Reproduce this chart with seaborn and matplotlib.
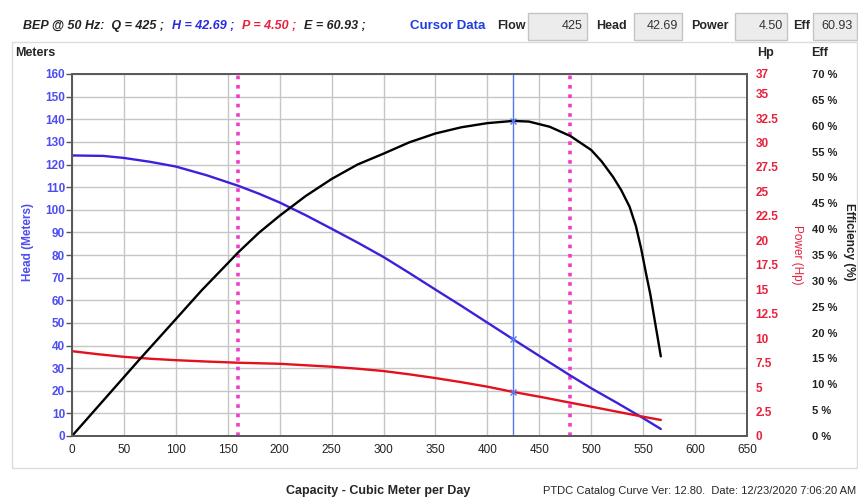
import numpy as np
import pandas as pd
import matplotlib
matplotlib.use('Agg')
import matplotlib.pyplot as plt
import matplotlib.patches as patches
import seaborn as sns

# --- data ---
head_flow = [0, 30, 50, 75, 100, 130, 160, 180, 200, 225, 250, 275, 300, 325, 350, 375, 400, 425,
             450, 480, 500, 525, 550, 567]
head_m = [124.0, 123.8, 122.9, 121.2, 119.1, 115.2, 110.6, 107.1, 103.2, 97.6, 91.6, 85.5, 79.1, 72.0,
          64.7, 57.5, 50.1, 42.69, 35.4, 26.7, 21.1, 14.6, 7.9, 3.1]

power_flow = [0, 25, 50, 75, 100, 130, 160, 200, 250, 275, 300, 325, 350, 375, 400, 425, 450, 480,
              500, 525, 550, 567]
power_hp = [8.67, 8.36, 8.09, 7.90, 7.75, 7.61, 7.49, 7.38, 7.08, 6.88, 6.64, 6.30, 5.92, 5.50, 5.04,
            4.50, 4.02, 3.40, 3.00, 2.48, 1.97, 1.64]

eff_flow = [0, 65, 100, 125, 150, 160, 180, 200, 225, 250, 275, 300, 325, 350, 375, 400, 425, 440, 460,
            480, 500, 510, 521, 529, 537, 543, 548, 553, 557, 560, 564, 567]
eff_pct = [0, 14.8, 22.6, 28.2, 33.4, 35.5, 39.3, 42.6, 46.4, 49.7, 52.5, 54.6, 56.8, 58.5, 59.7, 60.5,
           60.93, 60.8, 59.8, 58.0, 55.3, 53.1, 50.1, 47.5, 44.3, 40.6, 36.3, 31.2, 27.3, 23.7, 19.0, 15.4]

bep = {'Q': 425, 'H': 42.69, 'P': 4.50, 'E': 60.93}
pref_range = [160, 480]

x_ticks = list(range(0, 651, 50))
head_ticks = list(range(0, 161, 10))
hp_ticks = [0, 2.5, 5, 7.5, 10, 12.5, 15, 17.5, 20, 22.5, 25, 27.5, 30, 32.5, 35, 37]
hp_labels = ['0', '2.5', '5', '7.5', '10', '12.5', '15', '17.5', '20', '22.5', '25', '27.5', '30', '32.5', '35', '37']
eff_ticks = list(range(0, 71, 5))

head_df = pd.DataFrame({'flow': head_flow, 'val': head_m})
power_df = pd.DataFrame({'flow': power_flow, 'val': power_hp})
eff_df = pd.DataFrame({'flow': eff_flow, 'val': eff_pct})

sns.set_style('white')
plt.rcParams['font.family'] = ['Liberation Sans', 'DejaVu Sans']

BLUE = '#3a22dc'
TICKBLUE = '#4d4df2'
RED = '#e3101e'
LABRED = '#e8203c'
MAGENTA = '#f23cc8'
CURSOR = '#5577ee'

fig = plt.figure(figsize=(8.58, 5.0), dpi=100)
W, H = 858, 500
def fx(px): return px / W
def fy(py): return 1 - py / H

ax = fig.add_axes([fx(72), fy(436), fx(747) - fx(72), fy(74) - fy(436)])
ax2 = ax.twinx()
ax3 = ax.twinx()

# grid + reference lines
ax.set_xlim(0, 650)
ax.set_ylim(0, 160)
ax.set_xticks(x_ticks)
ax.set_yticks(head_ticks)
ax.grid(True, color='#c6c6c6', lw=1.0)
ax.set_axisbelow(True)
for q in pref_range:
    ax.axvline(q, color=MAGENTA, lw=2.6, ls=(0, (1, 1.6)), zorder=2)
ax.axvline(bep['Q'], color=CURSOR, lw=1.0, zorder=2)

# curves
sns.lineplot(data=head_df, x='flow', y='val', ax=ax, color=BLUE, lw=1.7, sort=False, zorder=4)
ax.plot([bep['Q']], [bep['H']], marker='x', color=CURSOR, ms=4, mew=1, zorder=5)

ax2.set_ylim(0, 37)
sns.lineplot(data=power_df, x='flow', y='val', ax=ax2, color=RED, lw=1.7, sort=False)
ax2.plot([bep['Q']], [bep['P']], marker='x', color=CURSOR, ms=4, mew=1)

ax3.set_ylim(0, 70)
sns.lineplot(data=eff_df, x='flow', y='val', ax=ax3, color='black', lw=1.7, sort=False)
ax3.plot([bep['Q']], [bep['E']], marker='x', color=CURSOR, ms=4, mew=1)

for a in (ax, ax2, ax3):
    a.set_xlabel('')
    a.set_ylabel('')
    for s in a.spines.values():
        s.set_color('#5a5a5a')
        s.set_linewidth(1.3)

ax.tick_params(axis='y', direction='out', length=4, width=1, color='#555555', pad=1,
               labelsize=8.5, labelcolor=TICKBLUE)
for t in ax.get_yticklabels():
    t.set_fontweight('bold')
ax.tick_params(axis='x', direction='out', length=4, width=1, color='#555555', pad=2,
               labelsize=8.5, labelcolor='#222222')

ax2.set_yticks(hp_ticks)
ax2.set_yticklabels(hp_labels)
ax2.tick_params(axis='y', length=0, pad=6, labelsize=8.5, labelcolor=LABRED)
for t in ax2.get_yticklabels():
    t.set_fontweight('bold')

ax3.set_yticks(eff_ticks)
ax3.set_yticklabels([f'{v} %' for v in eff_ticks])
ax3.tick_params(axis='y', length=0, pad=47, labelsize=8, labelcolor='#222222')
for t in ax3.get_yticklabels():
    t.set_fontweight('bold')
ax3.spines['right'].set_visible(False)

# axis titles
fig.text(fx(15), fy(53), 'Meters', fontsize=9, fontweight='bold', va='center', ha='left')
fig.text(fx(757), fy(53), 'Hp', fontsize=9, fontweight='bold', va='center', ha='left')
fig.text(fx(811), fy(53), 'Eff', fontsize=9, fontweight='bold', va='center', ha='left')
fig.text(fx(28), fy(242), 'Head (Meters)', fontsize=8.5, fontweight='bold', color=TICKBLUE,
         rotation=90, va='center', ha='center')
fig.text(fx(797), fy(255), 'Power (Hp)', fontsize=8.5, color=LABRED,
         rotation=270, va='center', ha='center')
fig.text(fx(849), fy(242), 'Efficiency (%)', fontsize=8.5, fontweight='bold', color='#222222',
         rotation=270, va='center', ha='center')
fig.text(fx(378), fy(491), 'Capacity - Cubic Meter per Day', fontsize=9, fontweight='bold',
         va='center', ha='center')
fig.text(fx(856), fy(491), 'PTDC Catalog Curve Ver: 12.80.  Date: 12/23/2020 7:06:20 AM', fontsize=8,
         va='center', ha='right')

# panel border
fig.add_artist(patches.Rectangle((fx(12), fy(468)), fx(857) - fx(12), fy(42) - fy(468),
                                 transform=fig.transFigure, fill=False, ec='#dcdcdc', lw=1))

# BEP header, pieces chained one after another
hy = fy(26)
hkw = dict(fontsize=9, fontweight='bold', style='italic', va='center', ha='left')
pieces = [(f"H = {bep['H']:.2f} ; ", '#2a2ae0'),
          (f"P = {bep['P']:.2f} ; ", LABRED),
          (f"E = {bep['E']:.2f} ;", '#222222')]
prev = fig.text(fx(23), hy, f"BEP @ 50 Hz:  Q = {bep['Q']} ; ", color='#222222', **hkw)
for txt, col in pieces:
    prev = ax.annotate(txt, xy=(1, 0.5), xycoords=prev, xytext=(3, 0), textcoords='offset points',
                       color=col, annotation_clip=False, **hkw)

# cursor data
fig.text(fx(410), hy, 'Cursor Data', color='#1f3fe0', fontsize=9.5, fontweight='bold', va='center', ha='left')
boxes = [('Flow', 497, 528, 587, f"{bep['Q']}"),
         ('Head', 596, 634, 682, f"{bep['H']:.2f}"),
         ('Power', 691, 735, 787, f"{bep['P']:.2f}"),
         ('Eff', 793, 813, 857, f"{bep['E']:.2f}")]
for name, lx, bx0, bx1, val in boxes:
    fig.text(fx(lx), hy, name, fontsize=9, fontweight='bold', va='center', ha='left')
    fig.add_artist(patches.Rectangle((fx(bx0), fy(40)), fx(bx1) - fx(bx0), fy(13) - fy(40),
                                     transform=fig.transFigure, fc='#ececec', ec='#c4c4c4', lw=1))
    fig.text(fx(bx1 - 4), hy, val, fontsize=9, color='#333333', va='center', ha='right')

fig.savefig('out.png', dpi=100)
